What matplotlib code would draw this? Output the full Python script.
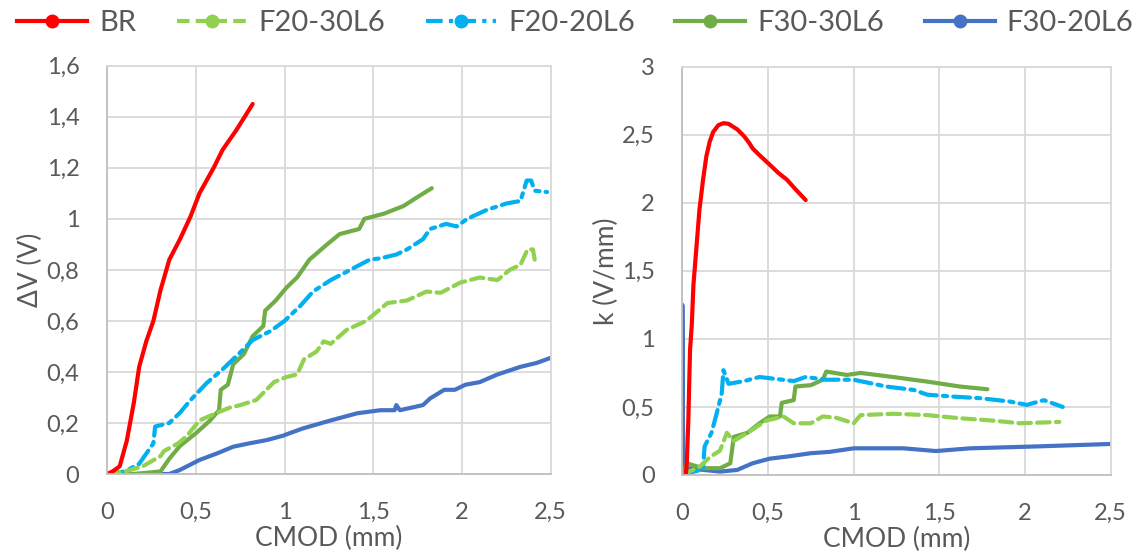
import matplotlib
matplotlib.use('Agg')
import matplotlib.pyplot as plt
from matplotlib.lines import Line2D
from matplotlib.ticker import FuncFormatter, MultipleLocator

plt.rcParams['font.family'] = ['Lato', 'DejaVu Sans']

# ---- data: left plot (ΔV vs CMOD) ----
br_x = [0, 0.03, 0.07, 0.11, 0.15, 0.18, 0.22, 0.26, 0.30, 0.35, 0.41, 0.47, 0.52, 0.60, 0.65, 0.73, 0.82]
br_y = [0, 0.01, 0.03, 0.13, 0.28, 0.42, 0.52, 0.60, 0.72, 0.84, 0.92, 1.01, 1.10, 1.20, 1.27, 1.35, 1.45]

f2030_x = [0.0, 0.10, 0.20, 0.30, 0.32, 0.40, 0.45, 0.52, 0.62, 0.69, 0.75, 0.84, 0.94, 1.01, 1.07, 1.11, 1.18,
           1.22, 1.26, 1.35, 1.46, 1.58, 1.69, 1.80, 1.88, 1.99, 2.10, 2.20, 2.27, 2.33, 2.37, 2.40, 2.41]
f2030_y = [0.0, 0.01, 0.03, 0.07, 0.09, 0.12, 0.15, 0.21, 0.24, 0.26, 0.27, 0.29, 0.36, 0.38, 0.39, 0.45, 0.48,
           0.52, 0.51, 0.565, 0.60, 0.67, 0.68, 0.715, 0.71, 0.75, 0.77, 0.76, 0.80, 0.82, 0.88, 0.88, 0.84]

f2020_x = [0.0, 0.10, 0.18, 0.26, 0.27, 0.35, 0.41, 0.47, 0.56, 0.65, 0.74, 0.82, 0.92, 1.00, 1.09, 1.16, 1.26,
           1.37, 1.48, 1.54, 1.63, 1.69, 1.78, 1.82, 1.91, 1.97, 2.03, 2.14, 2.25, 2.33, 2.365, 2.39, 2.41, 2.48]
f2020_y = [0.0, 0.01, 0.04, 0.12, 0.186, 0.20, 0.24, 0.29, 0.356, 0.41, 0.47, 0.525, 0.56, 0.60, 0.66, 0.715, 0.76,
           0.80, 0.84, 0.845, 0.86, 0.88, 0.92, 0.96, 0.98, 0.97, 1.00, 1.035, 1.06, 1.07, 1.15, 1.15, 1.11, 1.105]

f3030_x = [0.0, 0.15, 0.30, 0.35, 0.41, 0.50, 0.58, 0.63, 0.64, 0.68, 0.71, 0.77, 0.82, 0.88, 0.89, 0.95, 1.01,
           1.07, 1.14, 1.24, 1.31, 1.42, 1.45, 1.56, 1.67, 1.76, 1.83]
f3030_y = [0.0, 0.0, 0.01, 0.06, 0.11, 0.16, 0.21, 0.25, 0.33, 0.35, 0.43, 0.47, 0.54, 0.58, 0.64, 0.68, 0.73,
           0.77, 0.84, 0.90, 0.94, 0.96, 1.00, 1.02, 1.05, 1.09, 1.12]

f3020_x = [0.0, 0.20, 0.35, 0.41, 0.52, 0.62, 0.71, 0.80, 0.90, 0.99, 1.10, 1.26, 1.41, 1.54, 1.62, 1.63, 1.65,
           1.78, 1.82, 1.90, 1.96, 2.02, 2.10, 2.20, 2.33, 2.42, 2.50]
f3020_y = [0.0, 0.0, 0.0, 0.016, 0.055, 0.081, 0.107, 0.12, 0.133, 0.15, 0.178, 0.21, 0.238, 0.25, 0.25, 0.27, 0.25,
           0.27, 0.296, 0.33, 0.33, 0.35, 0.36, 0.39, 0.42, 0.435, 0.455]

# ---- data: right plot (k vs CMOD) ----
kbr_x = [0.02, 0.026, 0.035, 0.045, 0.055, 0.065, 0.084, 0.10, 0.12, 0.14, 0.16, 0.18, 0.21, 0.24, 0.27, 0.32,
         0.36, 0.39, 0.41, 0.45, 0.51, 0.56, 0.61, 0.66, 0.72]
kbr_y = [0.0, 0.09, 0.40, 0.92, 1.10, 1.40, 1.70, 1.95, 2.16, 2.34, 2.45, 2.52, 2.57, 2.585, 2.58, 2.54,
         2.49, 2.44, 2.40, 2.35, 2.28, 2.22, 2.17, 2.10, 2.02]

kf2030_x = [0.0, 0.03, 0.10, 0.16, 0.22, 0.26, 0.30, 0.38, 0.49, 0.59, 0.65, 0.75, 0.82, 0.90, 1.00, 1.04,
            1.23, 1.43, 1.62, 1.81, 1.97, 2.20]
kf2030_y = [0.0, 0.02, 0.06, 0.13, 0.18, 0.31, 0.25, 0.31, 0.40, 0.43, 0.38, 0.38, 0.43, 0.42, 0.38, 0.44,
            0.45, 0.44, 0.417, 0.40, 0.38, 0.39]

kf2020_x = [0.0, 0.05, 0.12, 0.13, 0.17, 0.20, 0.23, 0.24, 0.27, 0.36, 0.45, 0.65, 0.72, 0.84, 1.00, 1.19,
            1.35, 1.43, 1.58, 1.74, 1.91, 2.01, 2.11, 2.22]
kf2020_y = [0.0, 0.02, 0.04, 0.21, 0.31, 0.45, 0.60, 0.77, 0.67, 0.69, 0.72, 0.69, 0.72, 0.70, 0.70, 0.65,
            0.625, 0.59, 0.576, 0.564, 0.54, 0.515, 0.55, 0.50]

kf3030_x = [0.0, 0.026, 0.12, 0.22, 0.28, 0.30, 0.38, 0.45, 0.51, 0.57, 0.58, 0.65, 0.66, 0.75, 0.82, 0.84,
            0.96, 1.04, 1.23, 1.43, 1.62, 1.78]
kf3030_y = [0.0, 0.086, 0.05, 0.05, 0.086, 0.28, 0.31, 0.38, 0.43, 0.43, 0.53, 0.55, 0.65, 0.66, 0.70, 0.76,
            0.735, 0.75, 0.72, 0.686, 0.65, 0.63]

kf3020_x = [0.0, 0.0, 0.005, 0.026, 0.22, 0.32, 0.41, 0.51, 0.61, 0.75, 0.86, 1.00, 1.29, 1.48, 1.68,
            2.07, 2.50]
kf3020_y = [0.0, 1.25, 0.06, 0.05, 0.025, 0.037, 0.086, 0.12, 0.135, 0.16, 0.17, 0.196, 0.196, 0.176, 0.196,
            0.21, 0.228]

labels = ['BR', 'F20-30L6', 'F20-20L6', 'F30-30L6', 'F30-20L6']
colors = ['#FF0000', '#92D050', '#00B0F0', '#70AD47', '#4472C4']
dashes = [None, (3, 1.5), (4, 1.5, 1, 1.5), None, None]

gray = '#595959'
fmt = FuncFormatter(lambda v, p: ('%g' % round(v, 2)).replace('.', ','))

fig = plt.figure(figsize=(11.46, 5.52), dpi=100)
ax1 = fig.add_axes([0.0936, 0.1413, 0.3869, 0.7397])
ax2 = fig.add_axes([0.5954, 0.1395, 0.3738, 0.7397])

left = [(br_x, br_y), (f2030_x, f2030_y), (f2020_x, f2020_y), (f3030_x, f3030_y), (f3020_x, f3020_y)]
right = [(kbr_x, kbr_y), (kf2030_x, kf2030_y), (kf2020_x, kf2020_y), (kf3030_x, kf3030_y), (kf3020_x, kf3020_y)]

# draw order: blue first, red last like Excel
order = [4, 3, 2, 1, 0]
for ax, series in [(ax1, left), (ax2, right)]:
    for i in order:
        x, y = series[i]
        ln, = ax.plot(x, y, color=colors[i], lw=3, solid_capstyle='round', dash_capstyle='round')
        if dashes[i] is not None:
            ln.set_dashes(dashes[i])

ax1.set_xlim(0, 2.5)
ax1.set_ylim(0, 1.6)
ax1.yaxis.set_major_locator(MultipleLocator(0.2))
ax1.set_ylabel('ΔV (V)', color=gray, fontsize=19)
ax1.yaxis.set_label_coords(-0.174, 0.5)
ax2.set_xlim(0, 2.5)
ax2.set_ylim(0, 3)
ax2.yaxis.set_major_locator(MultipleLocator(0.5))
ax2.set_ylabel('k (V/mm)', color=gray, fontsize=19)
ax2.yaxis.set_label_coords(-0.176, 0.5)

for ax in (ax1, ax2):
    ax.xaxis.set_major_locator(MultipleLocator(0.5))
    ax.xaxis.set_major_formatter(fmt)
    ax.yaxis.set_major_formatter(fmt)
    ax.set_xlabel('CMOD (mm)', color=gray, fontsize=19)
    ax.xaxis.set_label_coords(0.5, -0.157)
    ax.xaxis.label.set_va('center')
    ax.yaxis.label.set_va('center')
    ax.grid(True, color='#d9d9d9', lw=1.3)
    ax.set_axisbelow(True)
    ax.tick_params(length=0, labelsize=17, labelcolor=gray, pad=20)
    for s in ax.spines.values():
        s.set_color('#d9d9d9')
        s.set_linewidth(1.3)
    ax.spines['left'].set_color('#bfbfbf')
    ax.spines['bottom'].set_color('#bfbfbf')

handles = []
for i in range(5):
    h = Line2D([], [], color=colors[i], lw=3, marker='o', ms=9)
    if dashes[i] is not None:
        h.set_dashes(dashes[i])
    handles.append(h)
fig.legend(handles, labels, loc='center', bbox_to_anchor=(0.502, 0.958), ncol=5, frameon=False,
           fontsize=21, handlelength=2.4, handletextpad=0.4, columnspacing=1.4, labelcolor=gray,
           numpoints=1)

plt.savefig('out.png', dpi=100)
